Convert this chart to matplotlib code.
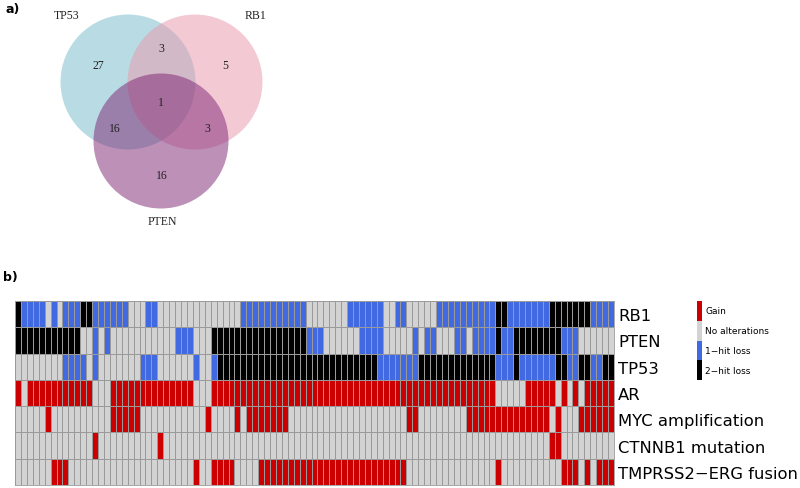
import numpy as np
import matplotlib
matplotlib.use("Agg")
import matplotlib.pyplot as plt
from matplotlib.colors import ListedColormap
from matplotlib.patches import Circle

# ---- panel a: Venn counts of 2-hit losses ----
venn_sets = ["TP53", "RB1", "PTEN"]
venn_counts = {
    "TP53": 27, "RB1": 5, "PTEN": 16,
    "TP53&RB1": 3, "TP53&PTEN": 16, "RB1&PTEN": 3,
    "all": 1,
}

# ---- panel b: oncoprint (0 none, 1 gain, 2 1-hit loss, 3 2-hit loss) ----
genes = ["RB1", "PTEN", "TP53", "AR", "MYC amplification",
         "CTNNB1 mutation", "TMPRSS2\u2212ERG fusion"]

rb1 = ("3222202022 2332222220 0022000000 0000000022 2222222220 "
       "0000002222 2200220000 0222222222 2332222222 3333333222 2")
pten = ("3333333333 3002020000 0000000222 0003333333 3333333332 "
        "2200000022 2200000202 2000220222 2322333333 3322200000 0")
tp53 = ("0000000022 2202000000 0222000000 2002333333 3333333333 "
        "3333333333 3222222233 3333333333 3222322222 2332233223 3")
ar = ("1011111111 1110001111 1111111111 0001111111 1111111111 "
      "1111111111 1111111111 1111111111 1000001111 1010101111 1")
myc = ("0000010000 0000001111 1000000000 0010000101 1111110000 "
       "0000000000 0000001100 0000001111 1111111111 0100011111 1")
ctnnb1 = ("0000000000 0001000000 0000100000 0000000000 0000000000 "
          "0000000000 0000000000 0000000000 0000000000 1100000000 0")
tmprss2 = ("0000001110 0000000000 0000000000 1001111000 0111111111 "
           "1111111111 1111110000 0000000000 0100000000 0011101011 1")

legend_labels = ["Gain", "No alterations", "1\u2212hit loss", "2\u2212hit loss"]
state_colors = ["#d3d3d3", "#cc0000", "#4169e1", "#000000"]


def parse(row):
    return [int(c) for c in row.replace(" ", "")]


grid = np.array([parse(r) for r in [rb1, pten, tp53, ar, myc, ctnnb1, tmprss2]])

W, H = 800, 489
fig = plt.figure(figsize=(W / 100, H / 100), dpi=100)

# background axes in pixel coordinates for the Venn diagram and panel tags
bg = fig.add_axes([0, 0, 1, 1])
bg.set_xlim(0, W)
bg.set_ylim(H, 0)
bg.axis("off")

circ = {"TP53": ((128, 83), "#75bbcb"),
        "RB1": ((195, 83), "#e997ab"),
        "PTEN": ((161, 142), "#7d2373")}
for name in venn_sets:
    (cx, cy), col = circ[name]
    bg.add_patch(Circle((cx, cy), 67.5, facecolor=col, alpha=0.5, edgecolor="none"))

serif = "Liberation Serif"
count_pos = {"TP53": (98, 66), "RB1": (225, 66), "PTEN": (162, 176),
             "TP53&RB1": (161, 49), "TP53&PTEN": (115, 129),
             "RB1&PTEN": (207, 129), "all": (161, 103)}
for key, (x, y) in count_pos.items():
    bg.text(x, y, str(venn_counts[key]), ha="center", va="center",
            fontsize=8.5, family=serif, color="#222222")
bg.text(67, 16, "TP53", ha="center", va="center", fontsize=8.5, family=serif, color="#222222")
bg.text(255, 16, "RB1", ha="center", va="center", fontsize=8.5, family=serif, color="#222222")
bg.text(162, 222, "PTEN", ha="center", va="center", fontsize=8.5, family=serif, color="#222222")

bg.text(5, 9, "a)", ha="left", va="center", fontsize=9, fontweight="bold")
bg.text(3, 278, "b)", ha="left", va="center", fontsize=9, fontweight="bold")

# heatmap
ax = fig.add_axes([15 / W, 3 / H, 599 / W, 184 / H])
cmap = ListedColormap(state_colors)
ax.pcolormesh(grid, cmap=cmap, vmin=-0.5, vmax=3.5,
              edgecolors="#9a9a9a", linewidth=0.6)
ax.set_xlim(0, grid.shape[1])
ax.set_ylim(grid.shape[0], 0)
ax.set_xticks([])
ax.yaxis.tick_right()
ax.set_yticks(np.arange(len(genes)) + 0.5)
ax.set_yticklabels(genes, fontsize=11.8)
ax.tick_params(axis="y", length=0, pad=3)
for s in ax.spines.values():
    s.set_color("#9a9a9a")
    s.set_linewidth(0.6)

# legend: Gain, No alterations, 1-hit, 2-hit (top to bottom)
lax = fig.add_axes([697 / W, 1 - 381 / H, 5 / W, 79 / H])
order = np.array([[1], [0], [2], [3]])
lax.pcolormesh(order, cmap=cmap, vmin=-0.5, vmax=3.5)
lax.set_ylim(4, 0)
lax.set_xlim(0, 1)
lax.axis("off")
for i, lab in enumerate(legend_labels):
    lax.text(1.6, i + 0.5, lab, ha="left", va="center", fontsize=6.5)

fig.savefig("out.png", dpi=100)
